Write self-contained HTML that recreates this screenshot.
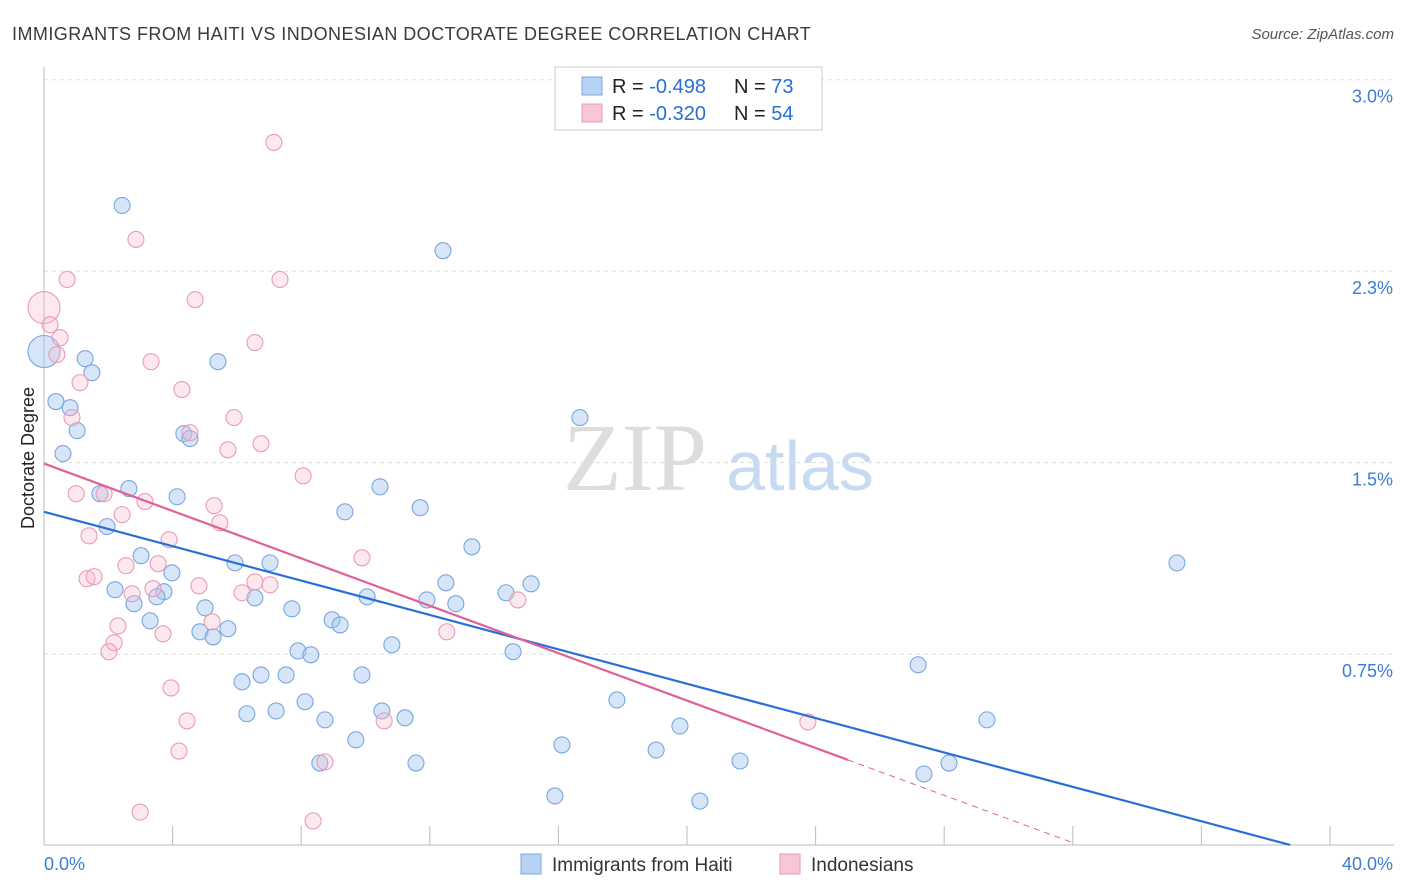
<!DOCTYPE html>
<html><head><meta charset="utf-8"><style>
body{margin:0;background:#fff;width:1406px;height:892px;overflow:hidden;font-family:"Liberation Sans",sans-serif}
svg{position:absolute;left:0;top:0}
</style></head><body>
<svg id="c" width="1406" height="892">
<text x="12" y="40" font-size="18" fill="#3a3a3a" letter-spacing="0.45">IMMIGRANTS FROM HAITI VS INDONESIAN DOCTORATE DEGREE CORRELATION CHART</text>
<text x="1394" y="39" font-size="15" fill="#555" font-style="italic" text-anchor="end">Source: ZipAtlas.com</text>
<text x="635" y="490" font-size="96" fill="#ddd" font-family="Liberation Serif,serif" text-anchor="middle">ZIP</text>
<text x="800" y="490" font-size="70" fill="#c8daf2" text-anchor="middle">atlas</text>
<text x="34" y="458" font-size="18" fill="#222" text-anchor="middle" transform="rotate(-90 34 458)">Doctorate Degree</text>
<g id="grid"></g><g id="marks"></g><g id="lines"></g>
<g>
<rect x="555" y="67" width="267" height="63" fill="#fff" stroke="#ccc"/>
<rect x="582" y="77" width="20" height="18" fill="#b8d2f4" stroke="#7aa8e0"/>
<rect x="582" y="104" width="20" height="18" fill="#f9c6d6" stroke="#e89ab5"/>
<text x="612" y="93" font-size="20" fill="#222">R = <tspan fill="#2a6fd6">-0.498</tspan></text>
<text x="734" y="93" font-size="20" fill="#222">N = <tspan fill="#2a6fd6">73</tspan></text>
<text x="612" y="120" font-size="20" fill="#222">R = <tspan fill="#2a6fd6">-0.320</tspan></text>
<text x="734" y="120" font-size="20" fill="#222">N = <tspan fill="#2a6fd6">54</tspan></text>
</g>
<g>
<rect x="521" y="854" width="20" height="20" fill="#b8d2f4" stroke="#7aa8e0"/>
<text x="552" y="871" font-size="19" fill="#333">Immigrants from Haiti</text>
<rect x="780" y="854" width="20" height="20" fill="#f9c6d6" stroke="#e89ab5"/>
<text x="811" y="871" font-size="19" fill="#333">Indonesians</text>
</g>
<text x="44" y="870" font-size="18" fill="#3d7bd9">0.0%</text>
<text x="1393" y="870" font-size="18" fill="#3d7bd9" text-anchor="end">40.0%</text>
</svg>
<script>
const yTicks=[0.75,1.5,2.25,3.0];
const yTickLabels=["0.75%","1.5%","2.3%","3.0%"];
const haitiX=[2.43,12.41,1.28,1.49,5.41,0.37,0.81,1.03,4.35,4.54,16.67,0.59,2.64,1.74,4.14,10.45,11.70,9.36,1.96,13.31,3.02,5.94,7.03,35.24,3.98,2.21,3.73,3.51,12.50,15.15,14.37,2.80,5.01,6.56,10.05,11.91,12.81,7.71,3.30,8.96,9.21,5.72,4.85,5.26,10.82,7.90,8.30,14.59,27.19,6.16,6.75,7.53,9.89,17.82,8.12,6.31,7.22,10.51,8.74,11.23,29.33,19.78,9.70,16.11,19.04,21.65,28.15,8.58,11.57,27.37,15.89,20.40,0];
const haitiY=[2.574,2.397,1.974,1.919,1.962,1.806,1.782,1.692,1.680,1.661,1.743,1.602,1.465,1.445,1.433,1.472,1.390,1.374,1.316,1.237,1.202,1.174,1.174,1.174,1.135,1.069,1.061,1.041,1.096,1.092,1.057,1.014,0.998,1.037,1.041,1.029,1.014,0.994,0.947,0.951,0.931,0.916,0.904,0.884,0.853,0.829,0.814,0.826,0.775,0.708,0.735,0.735,0.735,0.637,0.630,0.583,0.594,0.594,0.559,0.567,0.559,0.535,0.481,0.461,0.441,0.398,0.390,0.390,0.390,0.347,0.261,0.241,2.002];
const indoX=[7.15,2.86,0.72,7.34,4.70,0,0.19,0.50,6.56,0.40,3.33,1.12,4.29,5.91,0.87,4.54,5.72,6.75,8.06,1.00,1.87,3.14,5.29,2.43,5.47,1.40,3.89,9.89,3.55,2.55,1.34,1.56,4.82,6.56,7.03,3.39,2.74,6.16,14.74,5.23,3.70,2.30,12.53,2.18,2.02,3.95,4.45,10.58,23.76,4.20,8.74,2.99,8.37];
const indoY=[2.821,2.441,2.284,2.284,2.205,2.174,2.107,2.056,2.037,1.990,1.962,1.880,1.853,1.743,1.743,1.684,1.617,1.641,1.515,1.445,1.445,1.414,1.398,1.363,1.331,1.280,1.265,1.194,1.171,1.163,1.112,1.120,1.084,1.100,1.088,1.073,1.053,1.057,1.029,0.943,0.896,0.927,0.904,0.861,0.826,0.684,0.555,0.555,0.551,0.437,0.394,0.198,0.163];
const haitiBig=[72];
const indoBig=[5];
const haitiTrend=[[0,1.374],[38.76,0.069]];
const indoTrend=[[0,1.563],[25.01,0.402]];
const indoDash=[[25.01,0.402],[32,0.078]];
const NS="http://www.w3.org/2000/svg";
const xS=v=>44+v*32.15, yS=v=>862.6-v*255.3;
function mk(t,a,p){const e=document.createElementNS(NS,t);for(const k in a)e.setAttribute(k,a[k]);p.appendChild(e);return e;}
const g=document.getElementById('grid');
yTicks.forEach((t,i)=>{
 const l=mk('line',{x1:44,x2:1394,y1:yS(t)-17,y2:yS(t)-17,stroke:'#ddd','stroke-dasharray':'4,4'},g);
 
 
 const tx=mk('text',{x:1393,y:yS(t)+6,'font-size':18,fill:'#3d7bd9','text-anchor':'end'},g);
 tx.textContent=yTickLabels[i];
 
 
});
const ax=mk('line',{x1:44,x2:1394,y1:845,y2:845,stroke:'#bbb'},g);


const ay=mk('line',{x1:44,x2:44,y1:67,y2:845,stroke:'#bbb'},g);


for(let i=0;i<=10;i++){const tk=mk('line',{x1:xS(i*4),x2:xS(i*4),y1:826,y2:845,stroke:'#bbb'},g);
 
 }
const m=document.getElementById('marks');
haitiX.forEach((x,i)=>{const c=mk('circle',{cx:xS(x),cy:yS(haitiY[i]),r:haitiBig.includes(i)?16:8,fill:'rgba(165,198,240,0.45)',stroke:'#7aa6de','stroke-width':1.1},m);
 
 });
indoX.forEach((x,i)=>{const c=mk('circle',{cx:xS(x),cy:yS(indoY[i]),r:indoBig.includes(i)?16:8,fill:'rgba(248,188,208,0.35)',stroke:'#e99bb6','stroke-width':1.1},m);
 
 });
const L=document.getElementById('lines');
const t1=mk('line',{x1:xS(haitiTrend[0][0]),y1:yS(haitiTrend[0][1]),x2:xS(haitiTrend[1][0]),y2:yS(haitiTrend[1][1]),stroke:'#2a6fd6','stroke-width':2.2},L);


const t2=mk('line',{x1:xS(indoTrend[0][0]),y1:yS(indoTrend[0][1]),x2:xS(indoTrend[1][0]),y2:yS(indoTrend[1][1]),stroke:'#e0609a','stroke-width':2.2},L);


const t3=mk('line',{x1:xS(indoDash[0][0]),y1:yS(indoDash[0][1]),x2:xS(indoDash[1][0]),y2:yS(indoDash[1][1]),stroke:'#e0609a','stroke-width':1,'stroke-dasharray':'6,5'},L);


</script>
</body></html>
